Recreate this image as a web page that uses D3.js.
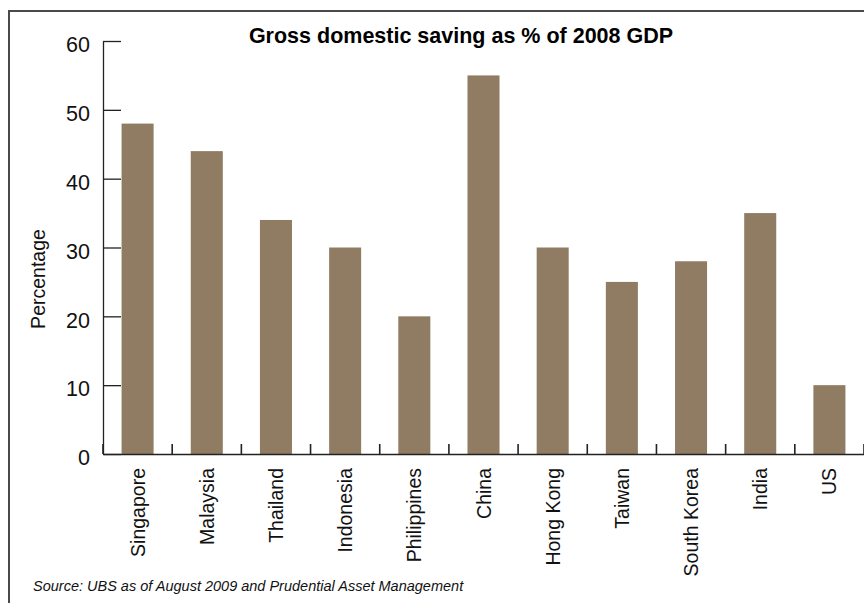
<!DOCTYPE html>
<html>
<head>
<meta charset="utf-8">
<script src="https://cdn.jsdelivr.net/npm/d3@7"></script>
<style>
  html, body { margin: 0; padding: 0; background: #fff; }
  svg { display: block; font-family: "Liberation Sans", Arial, sans-serif; }
</style>
</head>
<body>
<svg id="chart" width="864" height="603"></svg>
<script>
// Gross domestic saving, % of 2008 GDP
const countries = ["Singapore", "Malaysia", "Thailand", "Indonesia", "Philippines",
                   "China", "Hong Kong", "Taiwan", "South Korea", "India", "US"];
const savingPct = [48, 44, 34, 30, 20, 55, 30, 25, 28, 35, 10];
const yTicks = [0, 10, 20, 30, 40, 50, 60];

const titleText = "Gross domestic saving as % of 2008 GDP";
const yLabel = "Percentage";
const sourceText = "Source: UBS as of August 2009 and Prudential Asset Management";

const svg = d3.select("#chart");
const barColor = "#8f7c63";
const axisColor = "#222";

// frame
svg.append("path")
  .attr("d", "M9,615V11H870")
  .attr("fill", "none")
  .attr("stroke", "#4a4a4a")
  .attr("stroke-width", 2);

const plot = { left: 103, right: 864, top: 41, bottom: 454 };

const x = d3.scaleBand()
  .domain(countries)
  .range([plot.left, plot.right])
  .paddingInner(0.537)
  .paddingOuter(0.2685);

const y = d3.scaleLinear()
  .domain([0, 60])
  .range([plot.bottom, plot.top]);

// bars
svg.append("g").selectAll("rect")
  .data(countries)
  .join("rect")
  .attr("x", d => x(d))
  .attr("width", x.bandwidth())
  .attr("y", (d, i) => y(savingPct[i]))
  .attr("height", (d, i) => y(0) - y(savingPct[i]))
  .attr("fill", barColor);

// y axis, ticks pointing into the plot
const yAxis = svg.append("g")
  .attr("transform", `translate(${plot.left},0)`)
  .call(d3.axisLeft(y).tickValues(yTicks).tickSizeInner(-18).tickSizeOuter(0).tickPadding(13));
yAxis.select(".domain").attr("stroke", axisColor).attr("stroke-width", 1.3);
yAxis.selectAll(".tick line").attr("stroke", axisColor).attr("stroke-width", 1.3);
yAxis.selectAll(".tick text")
  .attr("font-size", 21.5)
  .attr("fill", "#111")
  .attr("dy", "0.5em")
  .attr("font-family", "'Liberation Sans', Arial, sans-serif");

// x axis baseline and category labels
const xAxis = svg.append("g")
  .attr("transform", `translate(0,${plot.bottom})`)
  .call(d3.axisBottom(x).tickSize(0).tickSizeOuter(0).tickPadding(0));
xAxis.select(".domain").attr("stroke", axisColor).attr("stroke-width", 1.6);
xAxis.selectAll(".tick text")
  .attr("font-size", 19.5)
  .attr("fill", "#111")
  .attr("font-family", "'Liberation Sans', Arial, sans-serif")
  .attr("text-anchor", "end")
  .attr("dy", "0.36em")
  .attr("transform", "translate(0,14) rotate(-90)");

// category boundary ticks, pointing up
const step = x.step();
const boundaries = d3.range(countries.length + 1).map(i => plot.left + i * step);
svg.append("g").selectAll("line")
  .data(boundaries)
  .join("line")
  .attr("x1", d => d).attr("x2", d => d)
  .attr("y1", plot.bottom).attr("y2", plot.bottom - 10)
  .attr("stroke", axisColor)
  .attr("stroke-width", 1.6);

// title
svg.append("text")
  .attr("x", 461)
  .attr("y", 43)
  .attr("text-anchor", "middle")
  .attr("font-size", 21.5)
  .attr("font-weight", "bold")
  .attr("fill", "#000")
  .text(titleText);

// y axis title
svg.append("text")
  .attr("transform", "translate(45,279) rotate(-90)")
  .attr("text-anchor", "middle")
  .attr("font-size", 19.5)
  .attr("fill", "#111")
  .text(yLabel);

// source note
svg.append("text")
  .attr("x", 33)
  .attr("y", 591)
  .attr("font-size", 14.5)
  .attr("font-style", "italic")
  .attr("fill", "#111")
  .text(sourceText);
</script>
</body>
</html>
